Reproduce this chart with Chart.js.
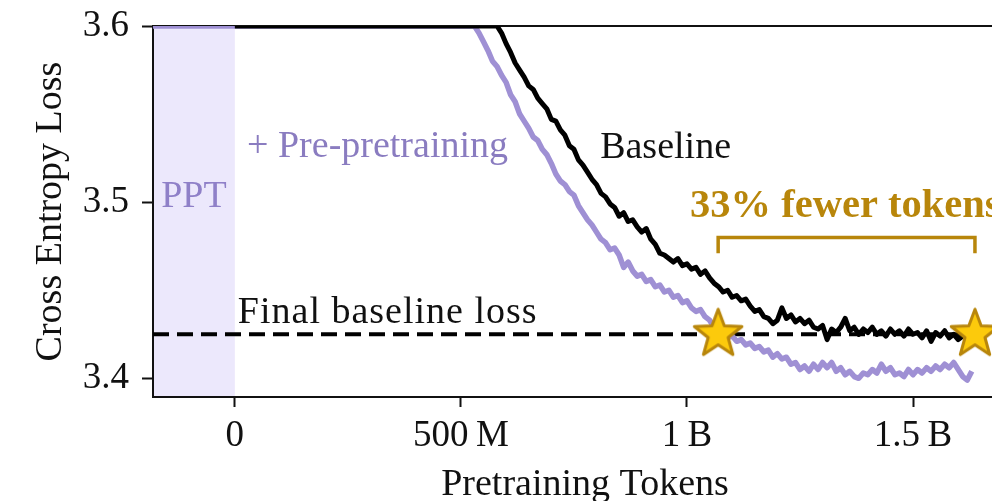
<!DOCTYPE html>
<html>
<head>
<meta charset="utf-8">
<script src="https://cdn.jsdelivr.net/npm/chart.js@4.4.1/dist/chart.umd.min.js"></script>
<style>
  html, body { margin:0; padding:0; background:#fff; overflow:hidden; width:992px; height:501px; }
  #wrap { position:absolute; left:0; top:0; width:1030px; height:501px; }
</style>
</head>
<body>
<div id="wrap"><canvas id="lossChart" width="1030" height="501"></canvas></div>
<script>
/* ---------------------------
   Data (tokens in billions)
   --------------------------- */
const xTicks = [0, 0.5, 1, 1.5];
const xTickLabels = ['0', '500\u2009M', '1\u2009B', '1.5\u2009B'];
const yTicks = [3.4, 3.5, 3.6];
const xRange = [-0.181, 1.73];
const yRange = [3.3894, 3.6];

const pptRange = [-0.181, 0];          // shaded pre-pretraining phase
const finalBaselineLoss = 3.425;

// baseline: above the top of the axes (shown clipped at 3.6) until ~0.58B
const baselineFlatStart = 0;
const baselineStart = 0.58;
const sampleStep = 0.01;
const baselineLoss = [
  3.600, 3.596, 3.590, 3.585, 3.579, 3.575, 3.571, 3.566, 3.564, 3.559,
  3.556, 3.553, 3.547, 3.546, 3.541, 3.538, 3.532, 3.530, 3.524, 3.521,
  3.517, 3.513, 3.510, 3.505, 3.503, 3.499, 3.497, 3.492, 3.494, 3.489,
  3.490, 3.486, 3.483, 3.485, 3.479, 3.476, 3.471, 3.470, 3.468, 3.466,
  3.468, 3.464, 3.465, 3.462, 3.463, 3.459, 3.461, 3.457, 3.454, 3.452,
  3.449, 3.450, 3.446, 3.447, 3.444, 3.445, 3.441, 3.438, 3.439, 3.435,
  3.434, 3.431, 3.433, 3.440, 3.434, 3.436, 3.432, 3.434, 3.431, 3.433,
  3.429, 3.428, 3.430, 3.422, 3.428, 3.426, 3.429, 3.434, 3.427, 3.429,
  3.425, 3.428, 3.426, 3.429, 3.425, 3.427, 3.424, 3.428, 3.425, 3.427,
  3.424, 3.428, 3.425, 3.426, 3.423, 3.427, 3.421, 3.426, 3.424, 3.427,
  3.423, 3.425, 3.422, 3.424
];

// + pre-pretraining: clipped at 3.6 from the start of PPT until ~0.53B
const pptFlatStart = -0.181;
const pptStart = 0.53;
const pptLoss = [
  3.600, 3.596, 3.591, 3.586, 3.580, 3.577, 3.572, 3.568, 3.561, 3.557,
  3.550, 3.546, 3.542, 3.537, 3.535, 3.530, 3.527, 3.522, 3.516, 3.512,
  3.510, 3.506, 3.504, 3.498, 3.494, 3.490, 3.487, 3.483, 3.479, 3.477,
  3.473, 3.474, 3.470, 3.463, 3.466, 3.461, 3.458, 3.459, 3.455, 3.456,
  3.452, 3.453, 3.449, 3.450, 3.446, 3.447, 3.443, 3.444, 3.440, 3.438,
  3.439, 3.435, 3.433, 3.429, 3.425, 3.426, 3.423, 3.424, 3.421, 3.422,
  3.419, 3.420, 3.417, 3.418, 3.415, 3.416, 3.412, 3.414, 3.411, 3.412,
  3.408, 3.409, 3.405, 3.407, 3.404, 3.408, 3.405, 3.409, 3.406, 3.409,
  3.404, 3.406, 3.402, 3.404, 3.401, 3.400, 3.403, 3.402, 3.405, 3.403,
  3.408, 3.404, 3.406, 3.402, 3.403, 3.401, 3.405, 3.402, 3.405, 3.403,
  3.406, 3.404, 3.407, 3.405, 3.408, 3.406, 3.409, 3.405, 3.401, 3.399,
  3.404
];

const starTokens = [1.069, 1.637];     // where each run reaches the final baseline loss
const bracketLoss = [3.471, 3.480];    // leg bottom, bar top

/* ---------------------------
   Helpers
   --------------------------- */
const SERIF = "'Liberation Serif', 'Times New Roman', serif";
const PURPLE = '#9f90d4';
const GOLD = '#b8860b';

function toPoints(flatStart, start, values){
  const pts = [{ x: flatStart, y: values[0] }];
  values.forEach((v, i) => pts.push({ x: +(start + i * sampleStep).toFixed(3), y: v }));
  return pts;
}

// filled five point star used as point style
function makeStar(r){
  const size = Math.ceil(r * 2 + 6);
  const c = document.createElement('canvas');
  c.width = size; c.height = size;
  const g = c.getContext('2d');
  g.translate(size / 2, size / 2);
  g.beginPath();
  for (let i = 0; i < 10; i++){
    const rad = i % 2 === 0 ? r : r * 0.42;
    const a = -Math.PI / 2 + i * Math.PI / 5;
    g.lineTo(Math.cos(a) * rad, Math.sin(a) * rad);
  }
  g.closePath();
  g.fillStyle = '#fcca0c';
  g.fill();
  g.lineWidth = 3;
  g.strokeStyle = GOLD;
  g.lineJoin = 'round';
  g.stroke();
  return c;
}
const starImg = makeStar(25);

/* ---------------------------
   Plugin: shading, top spine, text
   --------------------------- */
const notes = [
  { text: '+ Pre-pretraining', x: 0.027, y: 3.5256, color: '#8a7cc0', weight: 'normal', size: 38, spacing: 0 },
  { text: 'Baseline', x: 0.808, y: 3.525, color: '#111', weight: 'normal', size: 38, spacing: 0 },
  { text: 'PPT', x: -0.0905, y: 3.4972, color: '#8f80c8', weight: 'normal', size: 38, spacing: 0, center: true },
  { text: 'Final baseline loss', x: 0.0066, y: 3.4313, color: '#111', weight: 'normal', size: 38, spacing: 1 },
  { text: '33% fewer tokens', x: 1.007, y: 3.4915, color: GOLD, weight: 'bold', size: 40.5, spacing: 0 }
];

const decor = {
  id: 'decor',
  beforeDatasetsDraw(chart){
    const { ctx, chartArea: a, scales: { x } } = chart;
    ctx.save();
    const x0 = x.getPixelForValue(pptRange[0]), x1 = x.getPixelForValue(pptRange[1]);
    ctx.fillStyle = '#ece8fc';
    ctx.fillRect(x0 + 1, a.top, x1 - x0 - 1, a.bottom - a.top - 1);
    ctx.strokeStyle = '#111';
    ctx.lineWidth = 2;
    ctx.beginPath();
    ctx.moveTo(a.left, a.top);
    ctx.lineTo(a.right, a.top);
    ctx.stroke();
    ctx.restore();
  },
  afterDatasetsDraw(chart){
    const { ctx, scales: { x, y } } = chart;
    ctx.save();
    ctx.textBaseline = 'alphabetic';
    notes.forEach(n => {
      ctx.font = `${n.weight} ${n.size}px ${SERIF}`;
      ctx.letterSpacing = n.spacing + 'px';
      ctx.fillStyle = n.color;
      ctx.textAlign = n.center ? 'center' : 'left';
      ctx.fillText(n.text, x.getPixelForValue(n.x), y.getPixelForValue(n.y));
    });
    ctx.restore();
  }
};

/* ---------------------------
   Chart
   --------------------------- */
const ctx = document.getElementById('lossChart').getContext('2d');
const chart = new Chart(ctx, {
  type: 'line',
  data: {
    datasets: [
      {
        label: 'stars',
        data: starTokens.map(t => ({ x: t, y: finalBaselineLoss })),
        showLine: false,
        pointStyle: starImg,
        pointRadius: 25,
        clip: false
      },
      {
        label: 'bracket',
        data: [
          { x: starTokens[0], y: bracketLoss[0] },
          { x: starTokens[0], y: bracketLoss[1] },
          { x: starTokens[1], y: bracketLoss[1] },
          { x: starTokens[1], y: bracketLoss[0] }
        ],
        borderColor: GOLD,
        borderWidth: 3.5,
        borderCapStyle: 'butt',
        pointRadius: 0
      },
      {
        label: 'Baseline',
        data: toPoints(baselineFlatStart, baselineStart, baselineLoss),
        borderColor: '#000',
        borderWidth: 5,
        borderJoinStyle: 'round',
        pointRadius: 0,
        clip: 0
      },
      {
        label: '+ Pre-pretraining',
        data: toPoints(pptFlatStart, pptStart, pptLoss),
        borderColor: PURPLE,
        borderWidth: 5.5,
        borderJoinStyle: 'round',
        pointRadius: 0,
        clip: 0
      },
      {
        label: 'Final baseline loss',
        data: [{ x: xRange[0], y: finalBaselineLoss }, { x: starTokens[1], y: finalBaselineLoss }],
        borderColor: '#000',
        borderWidth: 4,
        borderDash: [16, 8],
        pointRadius: 0,
        clip: 0
      }
    ]
  },
  options: {
    responsive: false,
    animation: false,
    devicePixelRatio: 1,
    layout: { autoPadding: false, padding: { left: 0, top: 26, right: 13, bottom: 0 } },
    plugins: { legend: { display: false }, tooltip: { enabled: false } },
    elements: { line: { tension: 0 } },
    scales: {
      x: {
        type: 'linear',
        min: xRange[0],
        max: xRange[1],
        afterFit: s => { s.height = 104; s.paddingLeft = 0; s.paddingRight = 0; },
        afterBuildTicks: s => { s.ticks = xTicks.map(v => ({ value: v })); },
        ticks: {
          color: '#111',
          font: { family: SERIF, size: 37 },
          padding: 7,
          maxRotation: 0,
          autoSkip: false,
          callback: (v) => xTickLabels[xTicks.indexOf(v)]
        },
        grid: { drawOnChartArea: false, drawTicks: true, tickLength: 10, tickWidth: 2, tickColor: '#111' },
        border: { display: true, color: '#111', width: 2 },
        title: {
          display: true,
          text: 'Pretraining Tokens',
          color: '#111',
          font: { family: SERIF, size: 38, lineHeight: 1.0 },
          padding: { top: 0, bottom: -3 }
        }
      },
      y: {
        min: yRange[0],
        max: yRange[1],
        afterFit: s => { s.width = 153; s.paddingTop = 0; s.paddingBottom = 0; },
        afterBuildTicks: s => { s.ticks = yTicks.map(v => ({ value: v })); },
        ticks: {
          color: '#111',
          font: { family: SERIF, size: 37 },
          padding: 13,
          callback: v => v.toFixed(1)
        },
        grid: { drawOnChartArea: false, drawTicks: true, tickLength: 11, tickWidth: 2, tickColor: '#111' },
        border: { display: true, color: '#111', width: 2 },
        title: {
          display: true,
          text: 'Cross Entropy Loss',
          color: '#111',
          font: { family: SERIF, size: 38, lineHeight: 1.2 },
          padding: { top: 28, bottom: 0 }
        }
      }
    }
  },
  plugins: [decor]
});
</script>
</body>
</html>
